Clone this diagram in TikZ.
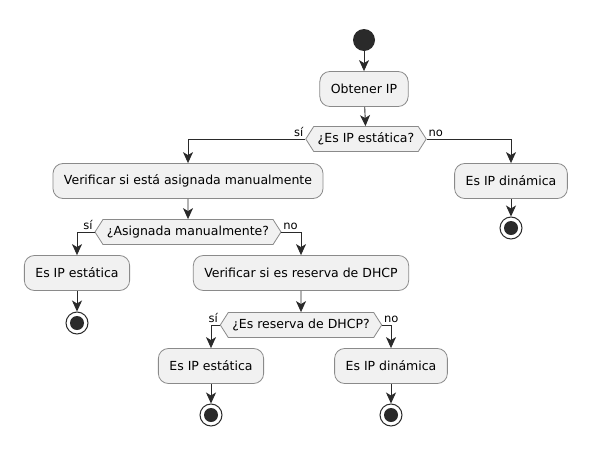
\documentclass[tikz,border=0pt]{standalone}
\usepackage{fontspec}
\setmainfont{DejaVu Sans}
\usepackage{tikz}
\usetikzlibrary{shapes.symbols,arrows.meta}

\definecolor{boxfill}{HTML}{F1F1F1}
\definecolor{boxline}{HTML}{8A8A8A}
\definecolor{ink}{HTML}{2A2A2A}

\tikzset{
  act/.style={draw=boxline, fill=boxfill, rounded corners=10pt, line width=0.8pt,
    minimum height=35pt, inner xsep=11pt, font=\fontsize{12.5}{14}\selectfont},
  choice/.style={draw=boxline, fill=boxfill, signal, signal to=west and east,
    signal pointer angle=115, line width=0.8pt, minimum height=25pt, inner xsep=4pt,
    inner ysep=2pt, font=\fontsize{12.5}{14}\selectfont},
  lbl/.style={font=\fontsize{11.5}{13}\selectfont, inner sep=1.5pt},
  flow/.style={draw=ink, line width=0.9pt, -{Stealth[length=11pt,width=10pt,inset=3pt]}},
  startdot/.style={circle, fill=ink, minimum size=22pt, inner sep=0pt},
  stopring/.style={circle, draw=ink, fill=white, line width=1pt, minimum size=22pt, inner sep=0pt},
}

\begin{document}
\begin{tikzpicture}[x=1pt, y=-1pt]
  \useasboundingbox[fill=white] (0,0) rectangle (589,458);

  % Top
  \node[startdot] (start) at (364, 40) {};
  \node[act] (obtener) at (364, 89) {Obtener IP};
  \node[choice] (esip) at (366, 139) {¿Es IP estática?};

  % Left branch
  \node[act] (verifman) at (188, 181) {Verificar si está asignada manualmente};
  \node[choice] (asign) at (188, 232) {¿Asignada manualmente?};
  \node[act] (estA) at (77, 273) {Es IP estática};
  \node[stopring] (endA) at (77, 323) {};
  \node[act] (verifdhcp) at (301, 273) {Verificar si es reserva de DHCP};
  \node[choice] (reserva) at (301, 325) {¿Es reserva de DHCP?};
  \node[act] (estB) at (211, 366) {Es IP estática};
  \node[stopring] (endB) at (211, 415) {};
  \node[act] (dinB) at (391, 366) {Es IP dinámica};
  \node[stopring] (endC) at (391, 415) {};

  % Right branch
  \node[act] (dinA) at (511, 181) {Es IP dinámica};
  \node[stopring] (endD) at (511, 228) {};

  % End dots
  \foreach \e in {endA,endB,endC,endD}
    \fill[ink] (\e) circle (7pt);

  % Connectors
  \draw[flow] (start) -- (obtener);
  \draw[flow] (obtener) -- (esip);
  \draw[flow] (esip.west) node[lbl, above left] {sí} -| (verifman.north);
  \draw[flow] (esip.east) node[lbl, above right] {no} -| (dinA.north);
  \draw[flow] (dinA) -- (endD);
  \draw[flow] (verifman) -- (asign);
  \draw[flow] (asign.west) node[lbl, above left] {sí} -| (estA.north);
  \draw[flow] (asign.east) node[lbl, above right] {no} -| (verifdhcp.north);
  \draw[flow] (estA) -- (endA);
  \draw[flow] (verifdhcp) -- (reserva);
  \draw[flow] (reserva.west) node[lbl, above left] {sí} -| (estB.north);
  \draw[flow] (reserva.east) node[lbl, above right] {no} -| (dinB.north);
  \draw[flow] (estB) -- (endB);
  \draw[flow] (dinB) -- (endC);
\end{tikzpicture}
\end{document}
